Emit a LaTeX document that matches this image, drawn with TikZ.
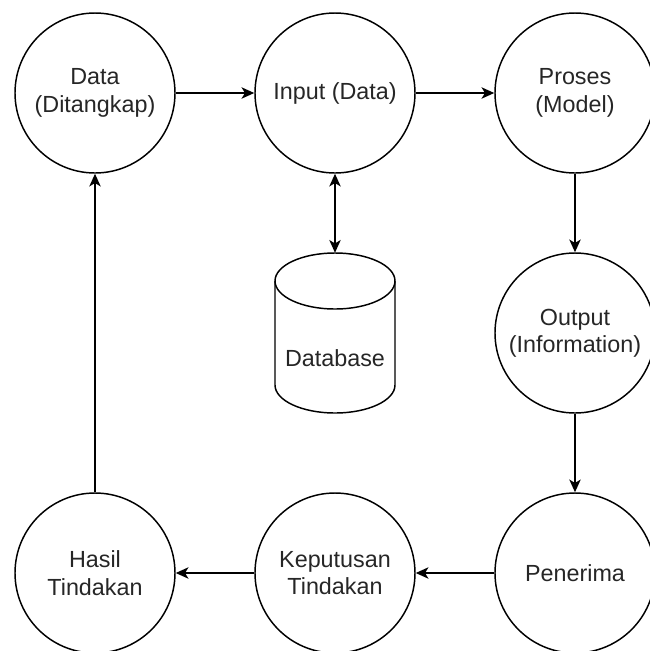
\documentclass[tikz,border=0pt]{standalone}
\usepackage{fontspec}
\setmainfont{Liberation Sans}
\usetikzlibrary{arrows.meta}
\begin{document}
\begin{tikzpicture}[x=0.75pt,y=-0.75pt,
  proc/.style={draw, circle, line width=1.1pt, minimum size=120pt, inner sep=0pt,
    align=center, font=\fontsize{17.5}{20.5}\selectfont, text=black!85},
  conn/.style={line width=1.1pt, -{Stealth[length=9.5pt,width=8.5pt,inset=2.5pt]}},
  bconn/.style={line width=1.1pt, {Stealth[length=9.5pt,width=8.5pt,inset=2.5pt]}-{Stealth[length=9.5pt,width=8.5pt,inset=2.5pt]}}]
\useasboundingbox (0,0) rectangle (650,651);
\begin{scope}
\clip (0,0) rectangle (650,651);
\node[proc] (data) at (95,93) {Data\\(Ditangkap)};
\node[proc] (input) at (335,93) {Input (Data)};
\node[proc] (proses) at (575,93) {Proses\\(Model)};
\node[proc] (output) at (575,333) {Output\\(Information)};
\node[proc] (penerima) at (575,573) {Penerima};
\node[proc] (keputusan) at (335,573) {Keputusan\\Tindakan};
\node[proc] (hasil) at (95,573) {Hasil\\Tindakan};
% database cylinder
\draw[line width=1.1pt] (335,281) ellipse[x radius=45pt, y radius=21pt];
\draw[line width=1.1pt] (275,281) -- (275,385) arc[start angle=180, end angle=360, x radius=45pt, y radius=21pt] -- (395,281);
\node[minimum width=90pt, minimum height=120pt, inner sep=0pt] (db) at (335,333) {};
\node[font=\fontsize{17.5}{20.5}\selectfont, text=black!85] (dblabel) at (335,358) {Database};
\end{scope}
\draw[conn] (data) -- (input);
\draw[conn] (input) -- (proses);
\draw[conn] (proses) -- (output);
\draw[conn] (output) -- (penerima);
\draw[conn] (penerima) -- (keputusan);
\draw[conn] (keputusan) -- (hasil);
\draw[conn] (hasil) -- (data);
\draw[bconn] (input) -- (db.north);
\end{tikzpicture}
\end{document}
